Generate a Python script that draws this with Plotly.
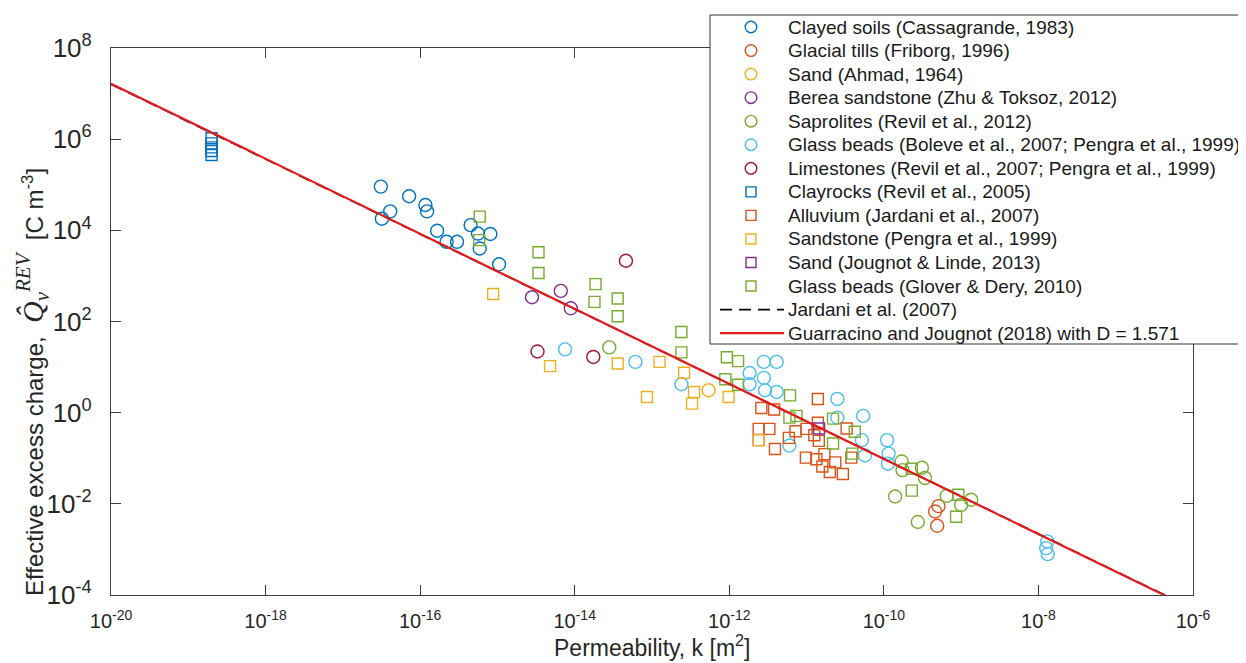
import plotly.graph_objects as go

# ---------------- data ----------------
clayed_soils_k = [3.1e-17, 3.2e-17, 4.1e-17, 7.2e-17, 1.17e-16, 1.23e-16, 1.66e-16,
                  2.2e-16, 3.0e-16, 4.5e-16, 5.6e-16, 5.9e-16, 8.1e-16, 1.05e-15]
clayed_soils_q = [9.1e4, 1.8e4, 2.6e4, 5.6e4, 3.6e4, 2.6e4, 9.8e3,
                  5.6e3, 5.6e3, 1.3e4, 8.5e3, 4.0e3, 8.3e3, 1.8e3]

glacial_tills_k = [5.1e-10, 4.6e-10, 4.9e-10]
glacial_tills_q = [8.9e-3, 6.8e-3, 3.3e-3]

sand_ahmad_k = [5.4e-13]
sand_ahmad_q = [3.1]

berea_k = [2.8e-15, 6.6e-15, 8.9e-15]
berea_q = [3.4e2, 4.7e2, 1.95e2]

saprolites_k = [2.8e-14, 1.7e-10, 1.74e-10, 3.1e-10, 3.4e-10, 1.4e-10, 2.75e-10,
                6.5e-10, 1.0e-9, 1.35e-9]
saprolites_q = [2.7e1, 8.5e-2, 5.5e-2, 6.2e-2, 3.7e-2, 1.45e-2, 4.0e-3,
                1.5e-2, 9.5e-3, 1.23e-2]

glass_boleve_k = [7.5e-15, 6.1e-14, 2.4e-13, 1.83e-12, 1.83e-12, 2.8e-12, 4.1e-12,
                  2.8e-12, 2.9e-12, 4.1e-12, 6.0e-12, 2.5e-11, 2.5e-11, 5.4e-11,
                  5.2e-11, 5.7e-11, 1.1e-10, 1.15e-10, 1.13e-10, 1.3e-8, 1.26e-8, 1.32e-8]
glass_boleve_q = [2.45e1, 1.3e1, 4.2, 7.4, 4.2, 1.3e1, 1.3e1,
                  5.8, 3.1, 2.85, 1.9e-1, 2.0, 7.8e-1, 8.5e-1,
                  2.5e-1, 1.15e-1, 2.5e-1, 1.26e-1, 7.6e-2, 1.5e-3, 1.07e-3, 7.9e-4]

limestones_k = [4.6e-14, 3.3e-15, 1.74e-14]
limestones_q = [2.15e3, 2.2e1, 1.67e1]

clayrocks_k = [2.0e-19, 2.0e-19, 2.0e-19, 2.0e-19, 2.0e-19]
clayrocks_q = [1.05e6, 8.1e5, 6.6e5, 5.5e5, 4.5e5]

alluvium_k = [1.4e-11, 2.6e-12, 3.8e-12, 2.4e-12, 3.3e-12, 2.4e-12, 3.9e-12,
              5.9e-12, 7.2e-12, 1.0e-11, 1.26e-11, 1.4e-11, 1.44e-11, 9.8e-12,
              1.34e-11, 1.7e-11, 1.6e-11, 2.35e-11, 2.0e-11, 2.95e-11, 3.3e-11, 3.8e-11]
alluvium_q = [2.0, 1.27, 1.17, 4.4e-1, 4.4e-1, 2.5e-1, 1.6e-1,
              2.8e-1, 3.9e-1, 4.4e-1, 3.2e-1, 6.0e-1, 2.4e-1, 1.03e-1,
              9.5e-2, 1.23e-1, 6.6e-2, 8.1e-2, 5.0e-2, 4.5e-2, 4.5e-1, 1.03e-1]

sandstone_k = [8.8e-16, 4.8e-15, 3.6e-14, 1.25e-13, 2.6e-13, 8.6e-14, 3.5e-13,
               3.3e-13, 9.8e-13, 2.4e-12]
sandstone_q = [4.0e2, 1.05e1, 1.2e1, 1.3e1, 7.5, 2.2, 2.85,
               1.58, 2.2, 2.5e-1]

sand_jougnot_k = [1.45e-11]
sand_jougnot_q = [4.5e-1]

glass_glover_k = [5.9e-16, 5.8e-16, 3.4e-15, 3.4e-15, 1.86e-14, 1.8e-14, 3.6e-14,
                  3.6e-14, 2.4e-13, 2.4e-13, 9.3e-13, 1.3e-12, 8.9e-13, 1.3e-12,
                  6.1e-12, 6.0e-12, 7.4e-12, 2.2e-11, 2.2e-11, 4.2e-11, 3.9e-11,
                  2.3e-10, 2.3e-10, 9.2e-10, 8.6e-10]
glass_glover_q = [2.0e4, 6.1e3, 3.3e3, 1.16e3, 6.6e2, 2.7e2, 3.2e2,
                  1.3e2, 5.9e1, 2.1e1, 1.64e1, 1.35e1, 5.4, 4.1,
                  2.4, 7.8e-1, 8.5e-1, 7.4e-1, 2.1e-1, 3.8e-1, 1.26e-1,
                  5.9e-2, 1.95e-2, 1.58e-2, 5.2e-3]

jardani_k = [1e-20, 1e-6]
jardani_q = [1.6e7, 5.0e-5]

guarracino_k = [1e-20, 1e-6]
guarracino_q = [1.65e7, 4.9e-5]

x_tick_exponents = [-20, -18, -16, -14, -12, -10, -8, -6]
y_tick_exponents = [-4, -2, 0, 2, 4, 6, 8]

# ---------------- styling ----------------
BLUE, ORANGE, YELLOW, PURPLE = "#0072BD", "#D95319", "#EDB120", "#7E2F8E"
GREEN, CYAN, DARKRED = "#77AC30", "#4DBEEE", "#A2142F"
RED = "#E41A1C"

series = [
    ("Clayed soils (Cassagrande, 1983)", clayed_soils_k, clayed_soils_q, BLUE, "circle"),
    ("Glacial tills (Friborg, 1996)", glacial_tills_k, glacial_tills_q, ORANGE, "circle"),
    ("Sand (Ahmad, 1964)", sand_ahmad_k, sand_ahmad_q, YELLOW, "circle"),
    ("Berea sandstone (Zhu & Toksoz, 2012)", berea_k, berea_q, PURPLE, "circle"),
    ("Saprolites (Revil et al., 2012)", saprolites_k, saprolites_q, GREEN, "circle"),
    ("Glass beads (Boleve et al., 2007; Pengra et al., 1999)", glass_boleve_k, glass_boleve_q, CYAN, "circle"),
    ("Limestones (Revil et al., 2007; Pengra et al., 1999)", limestones_k, limestones_q, DARKRED, "circle"),
    ("Clayrocks (Revil et al., 2005)", clayrocks_k, clayrocks_q, BLUE, "square"),
    ("Alluvium (Jardani et al., 2007)", alluvium_k, alluvium_q, ORANGE, "square"),
    ("Sandstone (Pengra et al., 1999)", sandstone_k, sandstone_q, YELLOW, "square"),
    ("Sand (Jougnot & Linde, 2013)", sand_jougnot_k, sand_jougnot_q, PURPLE, "square"),
    ("Glass beads (Glover & Dery, 2010)", glass_glover_k, glass_glover_q, GREEN, "square"),
]
line_series = [
    ("Jardani et al. (2007)", jardani_k, jardani_q, "black", 1.6, "12px,7px"),
    ("Guarracino and Jougnot (2018) with D = 1.571", guarracino_k, guarracino_q, RED, 2.2, "solid"),
]

W, H = 1246, 663
ML, MR, MT, MB = 103, 61, 40, 76
PW, PH = W - ML - MR, H - MT - MB


def px_x(px):
    return (px - ML) / PW


def px_y(py):
    return (H - MB - py) / PH


FONT = "Liberation Sans, Arial, Helvetica, sans-serif"
SERIF = "Liberation Serif, Times New Roman, serif"
AXC = "#3c3c3c"
TXT = "#262626"

fig = go.Figure()
for name, xs, ys, color, shape in series:
    fig.add_trace(go.Scatter(
        x=xs, y=ys, mode="markers", name=name, showlegend=False,
        marker=dict(symbol=shape + "-open", size=13 if shape == "circle" else 11,
                    color=color, line=dict(color=color, width=1.4)),
    ))
for name, xs, ys, color, width, dash in line_series:
    fig.add_trace(go.Scatter(
        x=xs, y=ys, mode="lines", name=name, showlegend=False,
        line=dict(color=color, width=width, dash=dash),
    ))

# ---------------- legend box (drawn as layout text + shapes) ----------------
shapes = []
annotations = []
LEG_L, LEG_R, LEG_T, LEG_B = 702, 1243, 7, 336
shapes.append(dict(type="rect", xref="paper", yref="paper",
                   x0=px_x(LEG_L), x1=px_x(LEG_R), y0=px_y(LEG_B), y1=px_y(LEG_T),
                   line=dict(color="#333333", width=1), fillcolor="white", layer="above"))
ROW0, ROWSTEP = 19, 23.55
SYM_X, TXT_X = 743, 779
entries = [(s[0], s[3], s[4]) for s in series] + [(l[0], l[3], "line:" + l[5]) for l in line_series]
for i, (name, color, kind) in enumerate(entries):
    cy = ROW0 + ROWSTEP * i
    if kind == "circle":
        r = 5.8
        shapes.append(dict(type="circle", xref="paper", yref="paper",
                           x0=px_x(SYM_X - r), x1=px_x(SYM_X + r),
                           y0=px_y(cy + r), y1=px_y(cy - r),
                           line=dict(color=color, width=1.4), layer="above"))
    elif kind == "square":
        r = 5.0
        shapes.append(dict(type="rect", xref="paper", yref="paper",
                           x0=px_x(SYM_X - r), x1=px_x(SYM_X + r),
                           y0=px_y(cy + r), y1=px_y(cy - r),
                           line=dict(color=color, width=1.4), layer="above"))
    else:
        dash = kind.split(":", 1)[1]
        lw = 1.6 if color == "black" else 2.2
        shapes.append(dict(type="line", xref="paper", yref="paper",
                           x0=px_x(712), x1=px_x(776), y0=px_y(cy), y1=px_y(cy),
                           line=dict(color=color, width=lw, dash=dash), layer="above"))
    annotations.append(dict(text=name, xref="paper", yref="paper",
                            x=px_x(TXT_X), y=px_y(cy), xanchor="left", yanchor="middle",
                            showarrow=False, borderpad=0,
                            font=dict(family=FONT, size=19, color="#1a1a1a")))

# y axis title as rotated text
annotations.append(dict(
    text=("Effective excess charge,  "
          "<span style='font-family:%s; font-size:30px'>"
          "<i>Q\u0302</i><sub><i>v</i></sub><sup><i>REV</i></sup></span>"
          "  [C m<sup>-3</sup>]") % SERIF,
    xref="paper", yref="paper", x=px_x(24), y=px_y(374),
    xanchor="center", yanchor="middle", textangle=-90, showarrow=False,
    font=dict(family=FONT, size=24, color=TXT)))

# x axis title as text below the tick labels
annotations.append(dict(
    text="Permeability, k [m<sup>2</sup>]",
    xref="paper", yref="paper", x=px_x(644), y=px_y(638),
    xanchor="center", yanchor="middle", showarrow=False,
    font=dict(family=FONT, size=23, color=TXT)))


def tick_label(e):
    return "10<sup>%d</sup>" % e


fig.update_layout(
    width=W, height=H,
    margin=dict(l=ML, r=MR, t=MT, b=MB),
    paper_bgcolor="white", plot_bgcolor="white",
    font=dict(family=FONT, size=17, color=TXT),
    showlegend=False,
    shapes=shapes, annotations=annotations,
)

fig.update_xaxes(
    type="log", range=[-20, -6],
    tickmode="array",
    tickvals=[10.0 ** e for e in x_tick_exponents],
    ticktext=[tick_label(e) for e in x_tick_exponents],
    showgrid=False, zeroline=False,
    showline=True, linecolor=AXC, linewidth=1.2, mirror="ticks",
    ticks="inside", ticklen=10, tickcolor=AXC, tickwidth=1.2,
    ticklabelstandoff=8,
    tickfont=dict(family=FONT, size=20, color=TXT),
)
fig.update_yaxes(
    type="log", range=[-4, 8],
    tickmode="array",
    tickvals=[10.0 ** e for e in y_tick_exponents],
    ticktext=[tick_label(e) for e in y_tick_exponents],
    showgrid=False, zeroline=False,
    showline=True, linecolor=AXC, linewidth=1.2, mirror="ticks",
    ticks="inside", ticklen=10, tickcolor=AXC, tickwidth=1.2,
    ticklabelstandoff=13,
    tickfont=dict(family=FONT, size=26, color=TXT),
)

fig.write_html("out.html")
